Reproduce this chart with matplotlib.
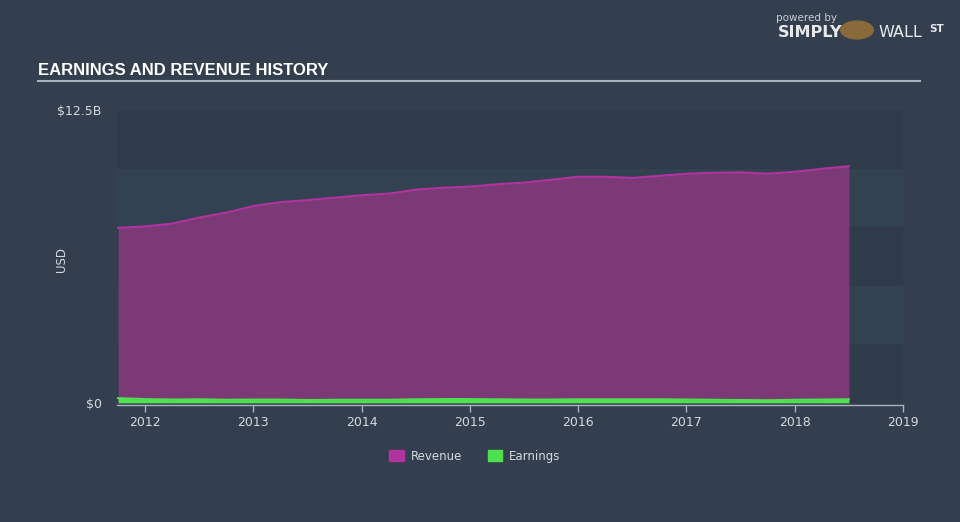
import numpy as np
import matplotlib.pyplot as plt

# quarterly periods (decimal years) and values in $B
periods = [2011.75, 2012.0, 2012.25, 2012.5, 2012.75, 2013.0, 2013.25, 2013.5,
           2013.75, 2014.0, 2014.25, 2014.5, 2014.75, 2015.0, 2015.25, 2015.5,
           2015.75, 2016.0, 2016.25, 2016.5, 2016.75, 2017.0, 2017.25, 2017.5,
           2017.75, 2018.0, 2018.25, 2018.5]
revenue = [7.47, 7.53, 7.65, 7.91, 8.12, 8.40, 8.57, 8.65,
           8.76, 8.86, 8.93, 9.10, 9.18, 9.23, 9.33, 9.40,
           9.52, 9.65, 9.65, 9.60, 9.69, 9.78, 9.82, 9.84,
           9.78, 9.86, 9.99, 10.10]
earnings = [0.20, 0.16, 0.14, 0.15, 0.13, 0.14, 0.14, 0.12,
            0.13, 0.13, 0.13, 0.15, 0.16, 0.16, 0.15, 0.14,
            0.14, 0.15, 0.15, 0.15, 0.15, 0.14, 0.13, 0.12,
            0.11, 0.13, 0.14, 0.15]
year_ticks = [2012, 2013, 2014, 2015, 2016, 2017, 2018, 2019]
y_labels = ['$0', '$12.5B']

bg = '#333f4e'
band_dark = '#2f3b4a'
band_light = '#334251'
txt = '#d5d9de'
green = '#4ee04e'

fig = plt.figure(figsize=(9.6, 5.22), dpi=100, facecolor=bg)
ax = fig.add_axes([117/960, 1 - 404/522, (903 - 117)/960, (404 - 110)/522])
ax.set_facecolor(bg)

# alternating horizontal bands
for i in range(5):
    ax.axhspan(i * 2.5, (i + 1) * 2.5, color=band_dark if i % 2 == 0 else band_light,
               lw=0, zorder=0)

x = np.array(periods)
ax.fill_between(x, 0, revenue, color='#7b3a76', lw=0, zorder=2)
ax.plot(x, revenue, color='#b0339f', lw=1.5, zorder=3)
ax.fill_between(x, 0, earnings, color=green, lw=0, zorder=4)
ax.plot(x, earnings, color=green, lw=1.5, zorder=5)

ax.set_xlim(2011.74, 2019.0)
ax.set_ylim(-0.05, 12.5)

ax.set_yticks([0, 12.5])
ax.set_yticklabels(y_labels)
ax.tick_params(axis='y', length=0, pad=11, labelsize=9, labelcolor=txt)
ax.set_xticks(year_ticks)
ax.set_xticklabels([str(y) for y in year_ticks])
ax.tick_params(axis='x', length=5, width=1, color='#a9b3be', direction='out',
               pad=3, labelsize=9, labelcolor=txt)

for s in ['top', 'left', 'right']:
    ax.spines[s].set_visible(False)
ax.spines['bottom'].set_color('#a9b3be')
ax.spines['bottom'].set_linewidth(1)
ax.spines['bottom'].set_position(('data', -0.08))

ax.set_ylabel('USD', color=txt, fontsize=8.5)
ax.yaxis.set_label_coords(-0.062, 0.49)

# title and rule
fig.text(38/960, 1 - 75/522, 'EARNINGS AND REVENUE HISTORY', color='white',
         fontsize=12, fontweight='bold', family=['Liberation Sans', 'DejaVu Sans'],
         va='baseline')
fig.add_artist(plt.Line2D([38/960, 920/960], [1 - 81/522, 1 - 81/522],
                          color='#a9b3be', lw=1.5))

# branding
fig.text(807/960, 1 - 21/522, 'powered by', color='#c8ccd2', fontsize=7.5, ha='center')
fig.text(810/960, 1 - 37/522, 'SIMPLY', color='#e6e8eb', fontsize=11.5,
         fontweight='bold', ha='center')
fig.text(900/960, 1 - 37/522, 'WALL', color='#e6e8eb', fontsize=11.5, ha='center')
fig.text(937/960, 1 - 32/522, 'ST', color='#e6e8eb', fontsize=7.5,
         fontweight='bold', ha='center')
fig.patches.append(plt.Circle((857/960, 1 - 30/522), 0.017, transform=fig.transFigure,
                              color='#8a6a3a', zorder=5))

# legend
handles = [plt.Rectangle((0, 0), 1, 1, color='#b0339f'),
           plt.Rectangle((0, 0), 1, 1, color=green)]
fig.legend(handles, ['Revenue', 'Earnings'], loc='center', bbox_to_anchor=(475/960, 1 - 456/522),
           ncol=2, frameon=False, fontsize=8.5, labelcolor=txt, handlelength=1.2,
           handleheight=1.0, columnspacing=2.2, handletextpad=0.6)

fig.savefig('out.png', dpi=100, facecolor=bg)
